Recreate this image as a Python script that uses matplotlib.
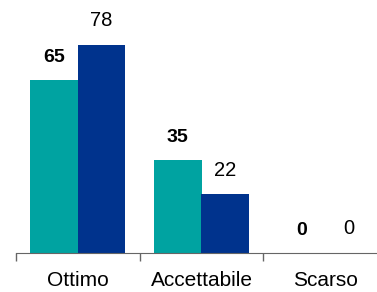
import matplotlib
matplotlib.use("Agg")
import matplotlib.pyplot as plt
import numpy as np

# data
categories = ["Ottimo", "Accettabile", "Scarso"]
series_a = [65, 35, 0]   # teal, bold labels
series_b = [78, 22, 0]   # dark blue

TEAL = "#00A3A1"
BLUE = "#00338D"

plt.rcParams["font.family"] = ["Liberation Sans", "DejaVu Sans"]

fig = plt.figure(figsize=(3.77, 2.92), dpi=100)
# axes spans past the right edge on purpose, like the reference
ax = fig.add_axes([16 / 377, 39 / 292, 371 / 377, 240 / 292])

x = np.arange(len(categories))
w = 0.385
bars_a = ax.bar(x - w / 2, series_a, w, color=TEAL)
bars_b = ax.bar(x + w / 2, series_b, w, color=BLUE)

for rect, v in zip(bars_a, series_a):
    ax.text(rect.get_x() + rect.get_width() / 2, v + 8.3, str(v),
            ha="center", va="center", fontsize=14, fontweight="bold")
for rect, v in zip(bars_b, series_b):
    ax.text(rect.get_x() + rect.get_width() / 2, v + 9, str(v),
            ha="center", va="center", fontsize=14.5)

ax.set_xlim(-0.5, 2.5)
ax.set_ylim(0, 90)
ax.set_yticks([])
ax.set_xticks([-0.5, 0.5, 1.5, 2.5])
ax.set_xticklabels([])
ax.set_xticks(x, minor=True)
ax.set_xticklabels(categories, minor=True, fontsize=15)
ax.tick_params(axis="x", which="major", length=6, color="#666666", width=1)
ax.tick_params(axis="x", which="minor", length=0, pad=13)

for s in ["top", "right", "left"]:
    ax.spines[s].set_visible(False)
ax.spines["bottom"].set_color("#666666")

fig.savefig("out.png", dpi=100)
